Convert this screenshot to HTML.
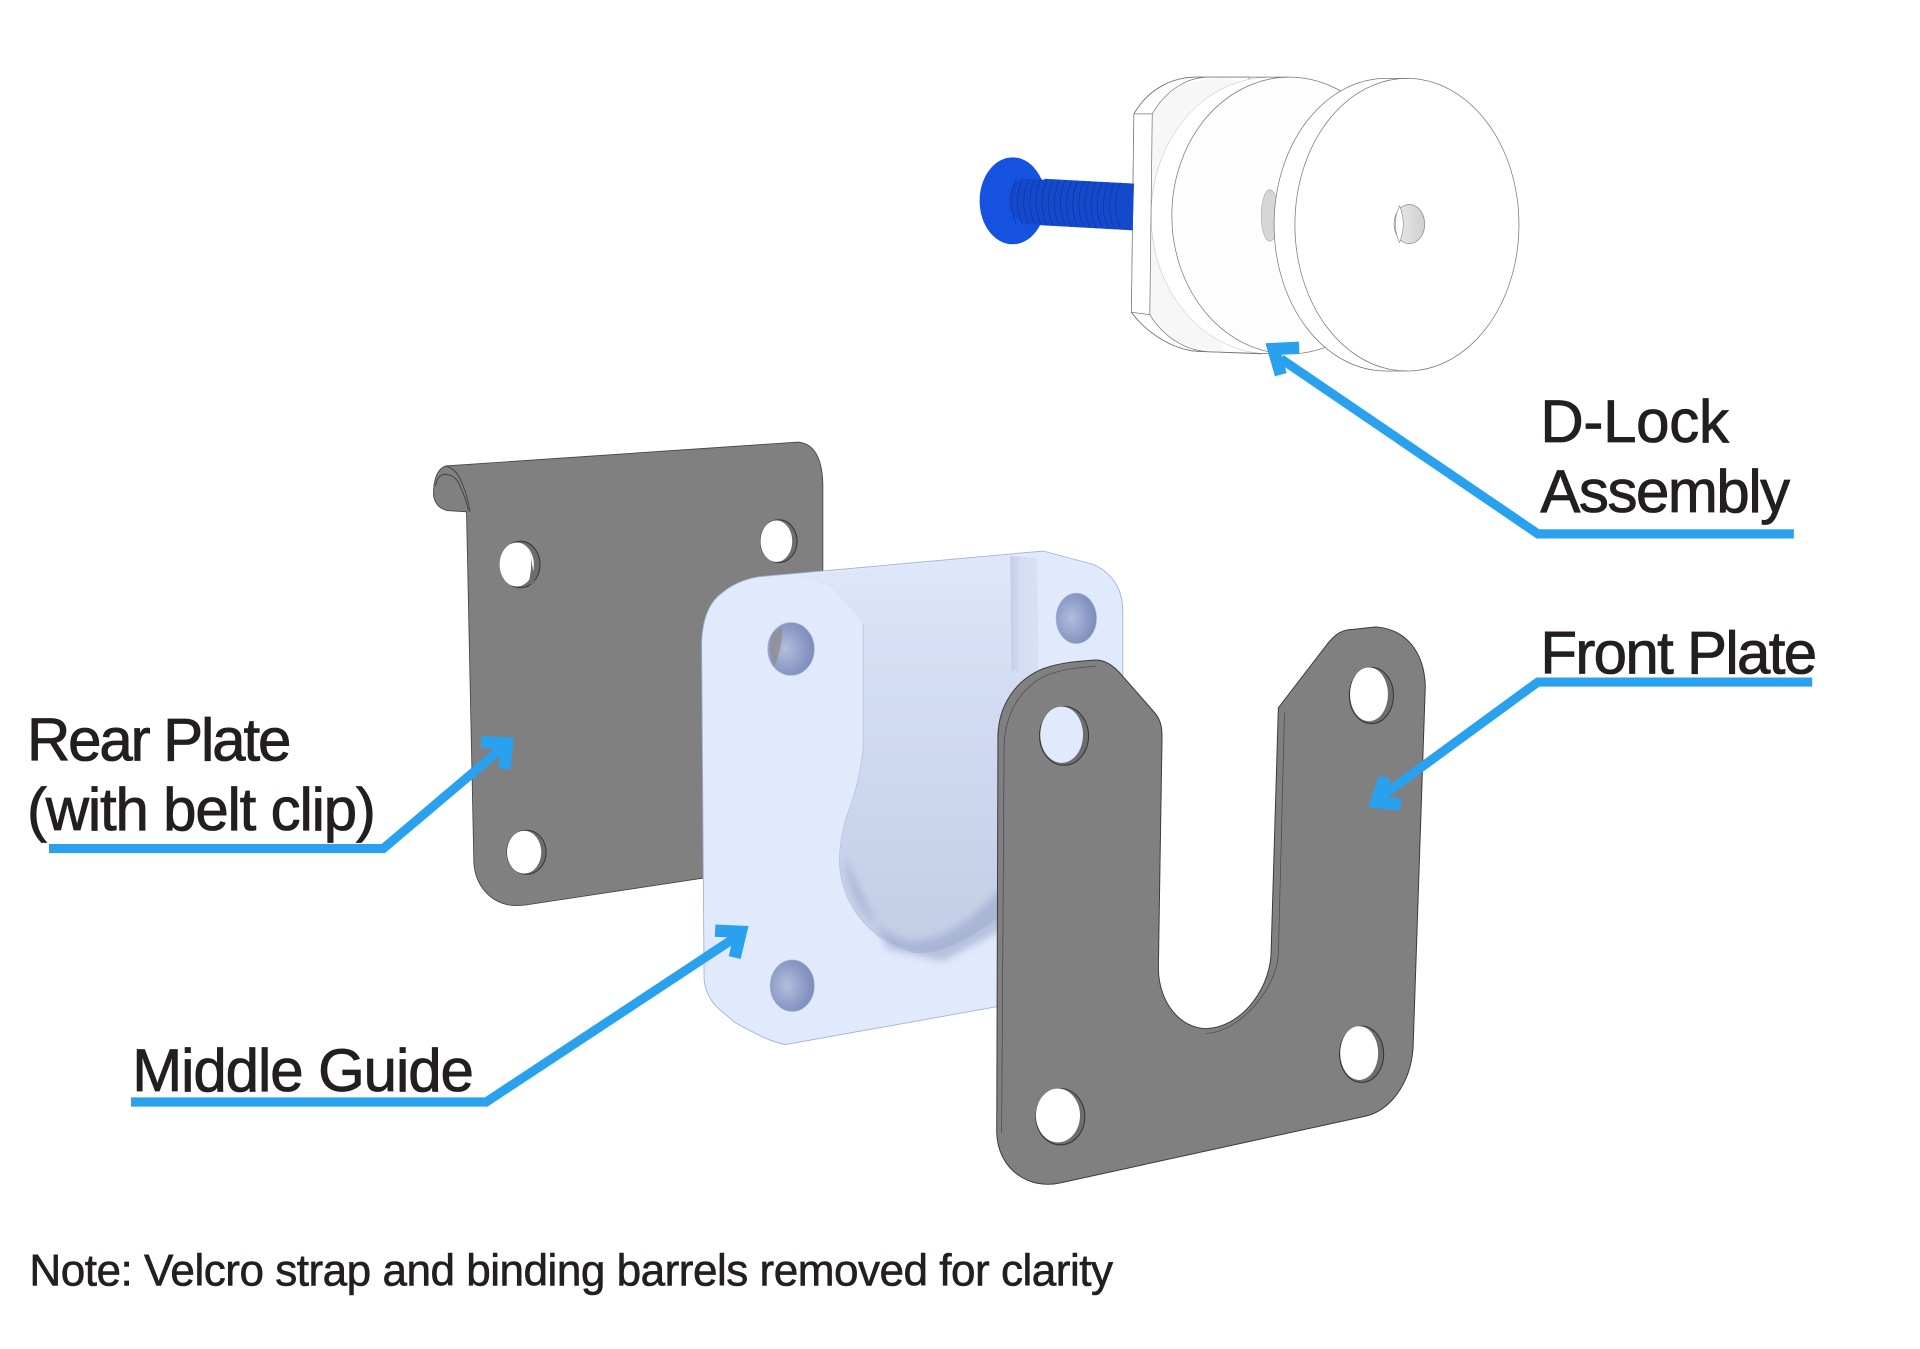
<!DOCTYPE html>
<html><head><meta charset="utf-8"><style>
html,body{margin:0;padding:0;background:#fff;width:1920px;height:1349px;overflow:hidden}
svg{display:block}
text{font-family:"Liberation Sans",sans-serif;fill:#231f20;stroke:#231f20}
</style></head><body>
<svg width="1920" height="1349" viewBox="0 0 1568 1101.7" xmlns="http://www.w3.org/2000/svg">
<defs>
<linearGradient id="cav" x1="0" y1="0" x2="0" y2="1"><stop offset="0" stop-color="#e0e7fa"/><stop offset=".22" stop-color="#d6dff4"/><stop offset=".6" stop-color="#ccd6ed"/><stop offset="1" stop-color="#c2cde6"/></linearGradient>
<linearGradient id="strip" x1="0" y1="0" x2="1" y2="0"><stop offset="0" stop-color="#c3cde6"/><stop offset=".35" stop-color="#d3dcf1"/><stop offset="1" stop-color="#d9e1f5"/></linearGradient>
<radialGradient id="gh" cx=".38" cy=".5" r=".7"><stop offset="0" stop-color="#b3bedd"/><stop offset=".6" stop-color="#8c9ac6"/><stop offset="1" stop-color="#7786b6"/></radialGradient>
<linearGradient id="bh" x1="0" y1="0" x2="1" y2="0"><stop offset="0" stop-color="#ebebeb"/><stop offset="1" stop-color="#cfcfcf"/></linearGradient>
<filter id="b3" x="-20%" y="-20%" width="140%" height="140%"><feGaussianBlur stdDeviation="3"/></filter>
</defs>
<rect width="1568" height="1102" fill="#fff"/>

<!-- D-lock -->
<g stroke="#777" stroke-width=".6">
<path d="M926,93 C938,72 958,63 977,63 L1020,63 L1040,250 L1030,289 L978,287 C955,285 935,270 924,255 Z" fill="#fff"/>
<path d="M941,93 C952,74 968,64 1000,64 L1040,70 L950,180 L1000,287 C968,286 950,275 939,257 Z" fill="#f7f7f7" stroke="none"/>
<path d="M941,93 C952,74 968,64 985,63 M939,257 C950,275 968,286 985,287" fill="none"/>
<ellipse cx="1037" cy="176" rx="97" ry="113" fill="#fff" stroke="#bbb" stroke-width=".4"/>
<ellipse cx="1053" cy="176" rx="96" ry="113" fill="#fdfdfd"/>
<path d="M926,93 L941,93 L939,257 L924,255 Z" fill="#fff"/>
<path d="M926,93 C938,72 958,63 977,63 L1052,63 M924,255 C935,270 955,285 978,287 L1040,289" fill="none"/>
</g>
<path d="M853,146 L926,150 L925,188 L850,184 Z" fill="#1552e0"/>
<ellipse cx="827" cy="164" rx="27" ry="35.5" fill="#1552e0"/>
<path d="M836,146 L926,150 L925,188 L838,183 Q822,176 824,160 Q826,148 836,146 Z" fill="#1449cc"/>
<g stroke="#0c379f" stroke-width=".7" fill="none" opacity=".85">
<path d="M830,146 q-8,19 0,37"/><path d="M835,146 q-8,19 0,37"/><path d="M840,146 q-8,19 0,37"/><path d="M845,146 q-8,19 0,37"/><path d="M850,146 q-8,19 0,37"/><path d="M855,147 q-8,19 0,37"/><path d="M860,147 q-8,19 0,37"/><path d="M865,147 q-8,19 0,37"/><path d="M870,147 q-8,19 0,37"/><path d="M875,148 q-8,19 0,37"/><path d="M880,148 q-8,19 0,37"/><path d="M885,148 q-8,19 0,37"/><path d="M890,148 q-8,19 0,37"/><path d="M895,149 q-8,19 0,37"/><path d="M900,149 q-8,19 0,37"/><path d="M905,149 q-8,19 0,37"/><path d="M910,149 q-8,19 0,37"/><path d="M915,149 q-8,19 0,37"/>
</g>
<ellipse cx="1037" cy="176" rx="7" ry="21" fill="#d6d6d6" stroke="#aaa" stroke-width=".5"/>
<ellipse cx="1132" cy="183.5" rx="91.5" ry="119.5" fill="#fff" stroke="#777" stroke-width=".6"/>
<path d="M1132,64 H1149 V303 H1132 Z" fill="#fff"/>
<ellipse cx="1149" cy="183.5" rx="91.5" ry="119.5" fill="#fff" stroke="#777" stroke-width=".6"/>
<path d="M1132,64 H1149 M1132,303 H1149" stroke="#777" stroke-width=".6"/>
<ellipse cx="1151" cy="183" rx="12.5" ry="16" fill="url(#bh)" stroke="#888" stroke-width=".6"/>
<path d="M1143,168 Q1136,183 1143,198 Q1149,183 1143,168 Z" fill="#fff" stroke="#888" stroke-width=".5"/>

<!-- Rear plate -->
<path d="M364,380.5 L652,361 Q671,363 672,395 L672,700 L575,717 L430,739 Q410,742 398,730 Q388,720 387,705 L381,418 L365,417 Q355,414 354,404 Q354,384 364,380.5 Z" fill="#808080" stroke="#444" stroke-width=".7"/>
<path d="M355.7,397 Q357,388 363.3,387.3 Q373,388 376,398 Q381,408 382.4,417 M364,380.5 Q373,383 377,394 Q382,405 383.7,418" fill="none" stroke="#3d3d3d" stroke-width=".7"/>
<ellipse cx="425" cy="461" rx="16" ry="19" fill="#6d6d6d" stroke="#333" stroke-width=".8"/>
<ellipse cx="422" cy="461" rx="14" ry="18" fill="#fff"/>
<path d="M432,445 L437,476 L431,478 Q436,462 432,445 Z" fill="#6d6d6d"/>
<ellipse cx="636" cy="442" rx="15" ry="17.5" fill="#6d6d6d" stroke="#333" stroke-width=".8"/>
<ellipse cx="634" cy="442" rx="13" ry="17" fill="#fff"/>
<ellipse cx="430" cy="696" rx="16" ry="18" fill="#6d6d6d" stroke="#333" stroke-width=".8"/>
<ellipse cx="428" cy="696" rx="14" ry="17.5" fill="#fff"/>

<!-- Middle guide -->
<path d="M573,525 Q574,495 590,484 Q602,474 620,471 L852,450 L893,461 Q917,472 917,500 L917,700 L815,822 L642,853 Q630,852 600,835 L585,822 Q576,812 575,800 Z" fill="#e1e9fc" stroke="#9fb1d4" stroke-width=".7"/>
<path d="M652,470 L678,479 L705,509 L705,610 Q702,640 692,665 Q684,690 686,710 Q692,760 745,778 Q775,782 820,745 L848,530 L847,455 L825,453 Z" fill="url(#cav)"/>
<path d="M825,454 L847,456 L848,548 L826,548 Z" fill="url(#strip)"/>
<path d="M690,700 Q694,752 740,768 Q775,772 818,725 L820,758 L770,785 L725,775 Z" fill="#99a6ca" opacity=".6" filter="url(#b3)"/>
<path d="M705,509 L705,610 Q702,640 692,665 Q684,690 686,710 Q690,745 722,768" fill="none" stroke="#b9c5e2" stroke-width=".7"/>
<ellipse cx="646" cy="530" rx="19" ry="21.5" fill="url(#gh)" stroke="#a3b1d1" stroke-width=".6"/>
<path d="M631,517 Q626,530 632,545 Q639,530 639,512 Z" fill="#8d8d92" opacity=".8"/>
<ellipse cx="879" cy="505" rx="16.5" ry="20.5" fill="url(#gh)" stroke="#a3b1d1" stroke-width=".6"/>
<ellipse cx="647" cy="805" rx="18" ry="21" fill="url(#gh)" stroke="#a3b1d1" stroke-width=".6"/>

<!-- Front plate -->
<path d="M815,600 C816,575 830,555 852,546 C866,541 880,540 895,539 C903,539 909,544 914,549 L943,582 C948,588 949,594 949,602 L946,790 C946,820 965,840 985,840 C1010,840 1036,812 1038,780 L1044,578 L1084,526 C1091,517 1097,514 1105,514 L1124,512 C1148,514 1163,532 1164,560 L1154,856 C1152,885 1135,908 1113,912 L866,966 C840,972 815,955 814,925 Z" fill="#808080" stroke="#3a3a3a" stroke-width=".8"/>
<path d="M820,610 C821,580 835,560 856,551 C870,546 882,545 895,544 M1049,582 L1044,780 C1042,808 1012,843 985,844 M820,610 L818,925" fill="none" stroke="#4b4b4b" stroke-width=".6"/>
<ellipse cx="869" cy="601" rx="20" ry="24" fill="#6d6d6d" stroke="#333" stroke-width=".8"/>
<ellipse cx="867" cy="600" rx="17.5" ry="23" fill="#e1e9fc"/>
<ellipse cx="1120" cy="568" rx="18" ry="23" fill="#6d6d6d" stroke="#333" stroke-width=".8"/>
<ellipse cx="1118" cy="567" rx="15.5" ry="22" fill="#fff"/>
<ellipse cx="1112" cy="861" rx="18" ry="23" fill="#6d6d6d" stroke="#333" stroke-width=".8"/>
<ellipse cx="1110" cy="860" rx="15.5" ry="22" fill="#fff"/>
<ellipse cx="866" cy="912" rx="20" ry="23" fill="#6d6d6d" stroke="#333" stroke-width=".8"/>
<ellipse cx="864" cy="911" rx="18" ry="22" fill="#fff"/>

<!-- Arrows -->
<g fill="none" stroke="#2aa1ee" stroke-width="7.5">
<polyline points="1465,436 1256,436 1046,293"/>
<path d="M1061,284 L1040,285 L1046,306" stroke-width="10"/>
<polyline points="1480,557 1256,557 1126,652"/>
<path d="M1131,635 L1124,655 L1144,657" stroke-width="10"/>
<polyline points="40,693 313,693 411,610"/>
<path d="M393,606 L414,607 L412,628" stroke-width="10"/>
<polyline points="107,900 397,900 603,764"/>
<path d="M584,760 L605,761 L600,782" stroke-width="10"/>
</g>

<!-- Labels -->
<g font-size="49" stroke-width=".7">
<text x="1258" y="361" textLength="154" lengthAdjust="spacing">D-Lock</text>
<text x="1258" y="418" textLength="204" lengthAdjust="spacing">Assembly</text>
<text x="1258" y="550" textLength="226" lengthAdjust="spacing">Front Plate</text>
<text x="22" y="621" textLength="216" lengthAdjust="spacing">Rear Plate</text>
<text x="22" y="678" textLength="285" lengthAdjust="spacing">(with belt clip)</text>
<text x="108" y="891" textLength="279" lengthAdjust="spacing">Middle Guide</text>
</g>
<text x="24" y="1050" font-size="36" stroke-width=".5" textLength="885" lengthAdjust="spacing">Note: Velcro strap and binding barrels removed for clarity</text>
</svg>
</body></html>
